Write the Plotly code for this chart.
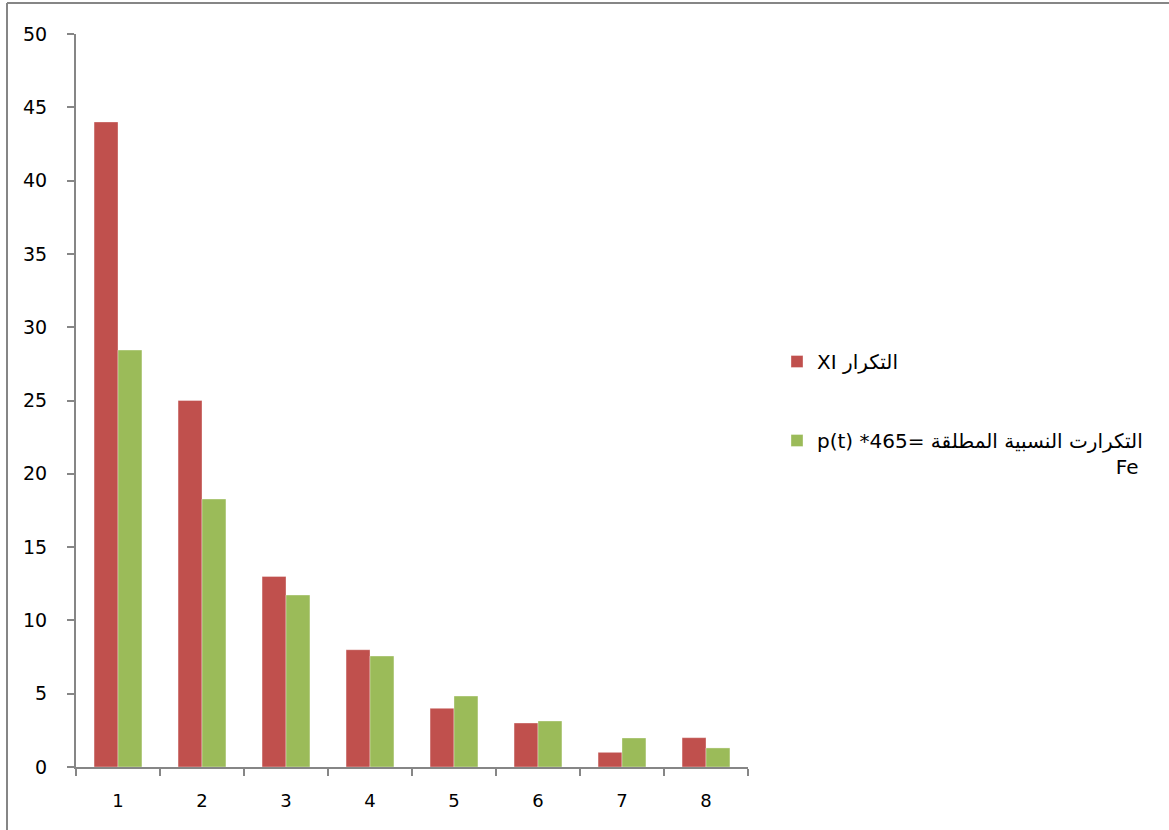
import plotly.graph_objects as go

# Categories and series values
categories = ["1", "2", "3", "4", "5", "6", "7", "8"]
freq_xi = [44, 25, 13, 8, 4, 3, 1, 2]
freq_fe = [28.44, 18.28, 11.73, 7.57, 4.84, 3.14, 1.98, 1.30]
y_ticks = [0, 5, 10, 15, 20, 25, 30, 35, 40, 45, 50]

name_xi = "XI التكرار"
name_fe = "p(t) *465= التكرارت النسبية المطلقة<br>" + "\u00a0" * 47 + "Fe"

RED = "#C0504D"
GREEN = "#9BBB59"
AXIS = "#868686"

W, H = 1169, 830
L, R, T, B = 76, 421, 34, 63
pw, ph = W - L - R, H - T - B

fig = go.Figure()
fig.add_trace(go.Bar(x=categories, y=freq_xi, name=name_xi, legendgroup="a",
                     marker=dict(color=RED, line=dict(color="rgba(255,255,255,0.35)", width=1))))
fig.add_trace(go.Bar(x=categories, y=freq_fe, name=name_fe, legendgroup="b",
                     marker=dict(color=GREEN, line=dict(color="rgba(255,255,255,0.35)", width=1))))

fig.update_layout(
    width=W, height=H,
    margin=dict(l=L, r=R, t=T, b=B, pad=0),
    paper_bgcolor="white", plot_bgcolor="white",
    barmode="group", bargap=0.43, bargroupgap=0,
    font=dict(family="DejaVu Sans, sans-serif", size=20, color="#000"),
    showlegend=True,
    legend=dict(x=(777 - L) / pw, y=(767 - 342) / ph, xanchor="left", yanchor="top",
                traceorder="grouped", tracegroupgap=50, itemwidth=30, valign="top",
                font=dict(family="DejaVu Sans, sans-serif", size=20),
                bgcolor="rgba(0,0,0,0)"),
    xaxis=dict(type="category", range=[-0.5, 7.5], showline=True, linecolor=AXIS, linewidth=2,
               ticks="outside", tickson="boundaries", ticklen=7, tickcolor=AXIS, tickwidth=2,
               showgrid=False, zeroline=False, ticklabelstandoff=16,
               tickfont=dict(family="DejaVu Sans", size=18)),
    yaxis=dict(range=[0, 50], tickvals=y_ticks, showline=True, linecolor=AXIS, linewidth=2,
               ticks="outside", ticklen=7, tickcolor=AXIS, tickwidth=2,
               showgrid=False, zeroline=False, ticklabelstandoff=16,
               tickfont=dict(family="DejaVu Sans", size=19)),
)

# Outer frame lines (left and top)
fx = (7 - L) / pw
fy = (767 - 3) / ph
fig.add_shape(type="line", xref="paper", yref="paper", x0=fx, x1=fx, y0=fy, y1=-0.2,
              line=dict(color=AXIS, width=2))
fig.add_shape(type="line", xref="paper", yref="paper", x0=fx, x1=1.8, y0=fy, y1=fy,
              line=dict(color=AXIS, width=2))

fig.write_html("out.html")
